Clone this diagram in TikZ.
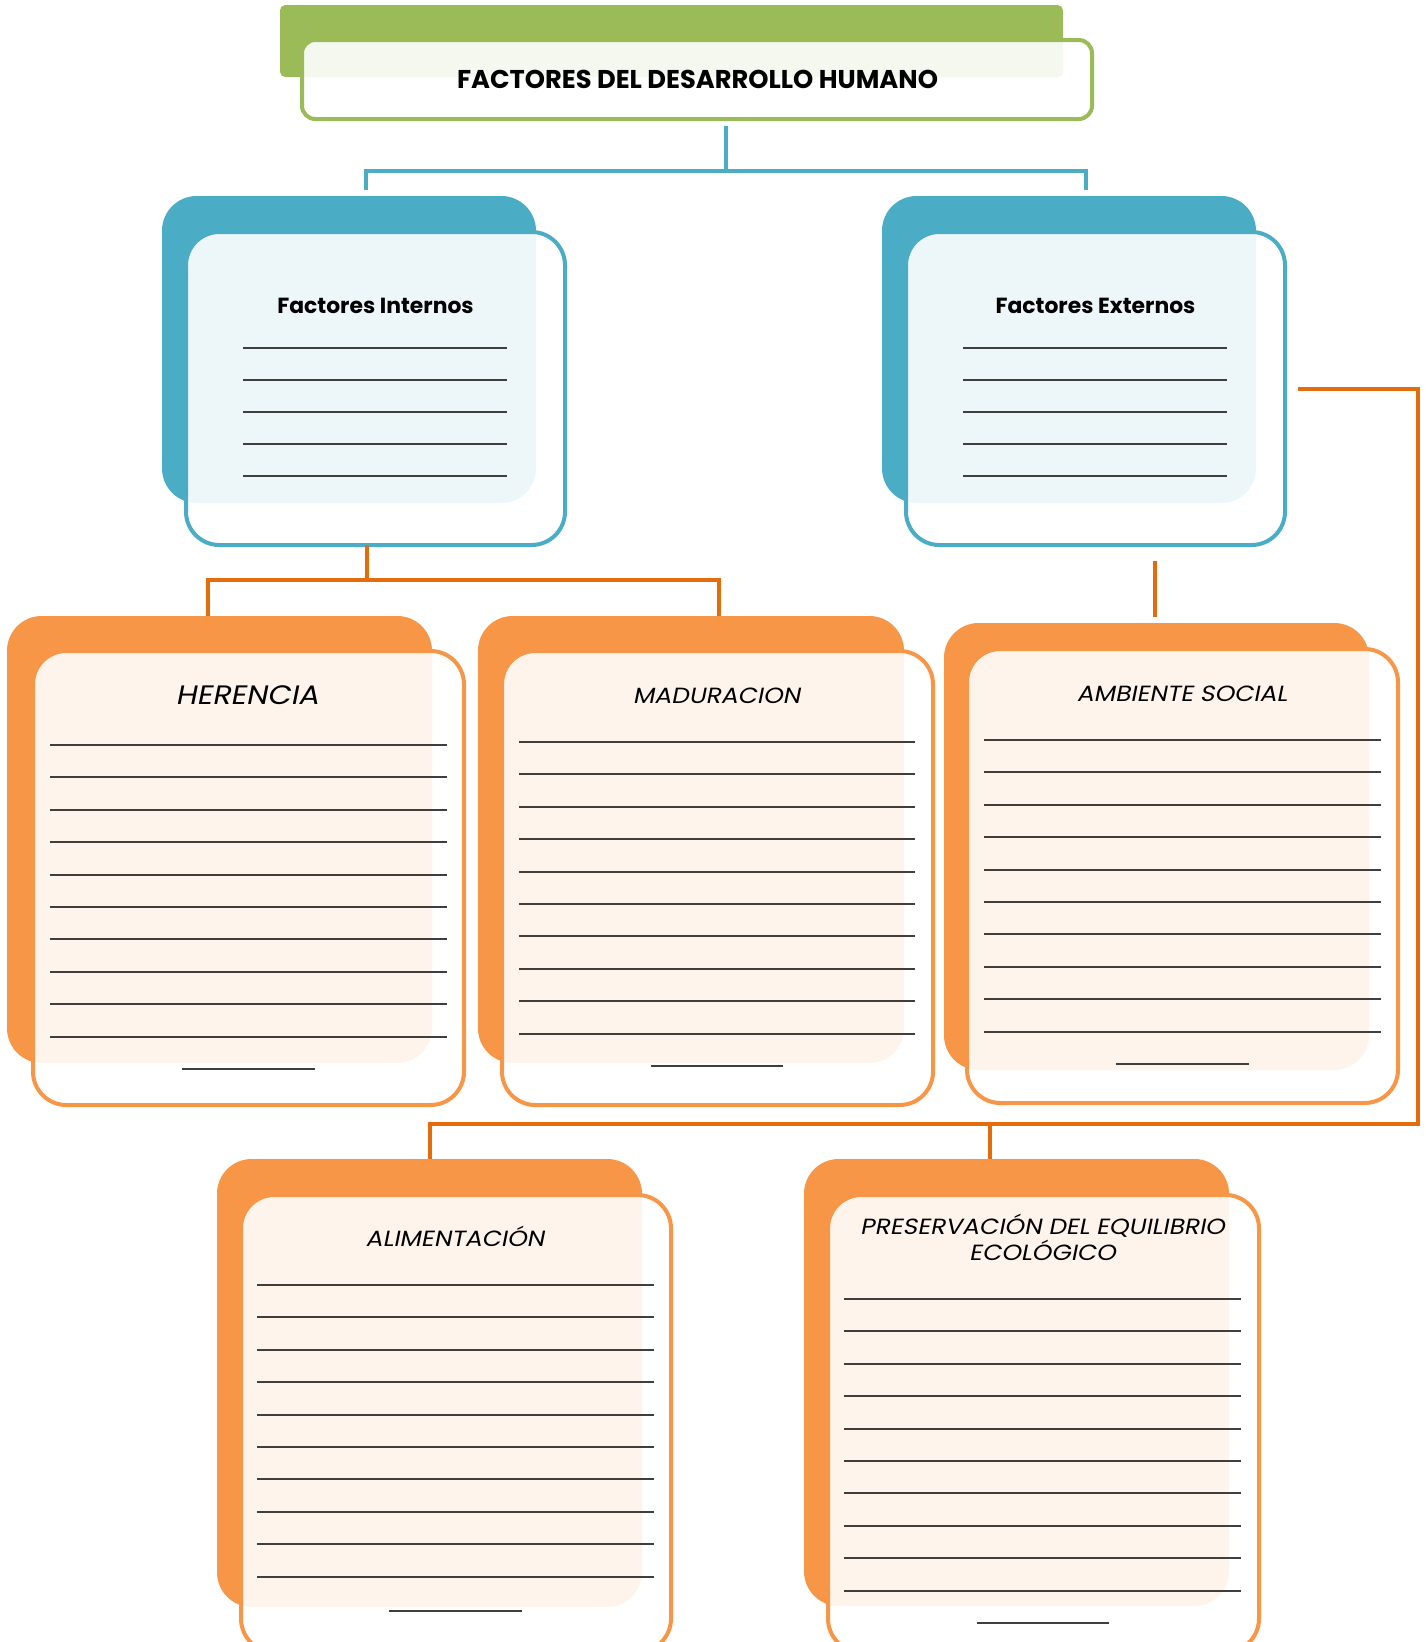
\documentclass[tikz,border=0pt]{standalone}
\usepackage{fontspec}
\setmainfont{Poppins}
\newfontfamily\obl{Poppins}[FakeSlant=0.2, FakeStretch=1.135]
\definecolor{cgreen}{HTML}{9BBB59}
\definecolor{cblue}{HTML}{4BACC6}
\definecolor{corange}{HTML}{F79646}
\definecolor{cdark}{HTML}{E46C0A}
\definecolor{cline}{HTML}{3F3F3F}
\newcommand\place[6]{\node[#6, minimum width={(#4-#2)*0.75pt}, minimum height={(#5-#3)*0.75pt}] (#1) at ({(#2+#4)/2},{(#3+#5)/2}) {};}
\tikzset{
  card/.style={rectangle, inner sep=0pt, outer sep=0pt},
  backbox/.style={card, fill=#1, rounded corners=26pt},
  frontbox/.style={card, draw=#1, line width=3pt, fill=white, fill opacity=0.9, rounded corners=25pt},
  ruled/.style={draw=cline, line width=1.4pt},
  bcon/.style={draw=cblue, line width=2.6pt},
  ocon/.style={draw=cdark, line width=2.6pt},
  ttl/.style={anchor=base, inner sep=0pt, text=black},
}
\begin{document}
\begin{tikzpicture}[x=0.75pt,y=-0.75pt]
\useasboundingbox (0,0) rectangle (1426,1642);
\clip (0,0) rectangle (1426,1642);
% title
\place{tB}{280}{5}{1063}{77}{card, fill=cgreen, rounded corners=4pt}
\place{tF}{302}{40}{1092}{119}{card, draw=cgreen, line width=3pt, fill=white, fill opacity=0.9, rounded corners=10pt}
\node[ttl, font=\bfseries\fontsize{19.3}{23}\selectfont] (tT) at (697.5,88) {FACTORES DEL DESARROLLO HUMANO};
% blue cards
\place{iB}{162}{196}{536}{503}{backbox=cblue}
\place{iF}{186}{232}{565}{545}{frontbox=cblue}
\place{eB}{882}{196}{1256}{503}{backbox=cblue}
\place{eF}{906}{232}{1285}{545}{frontbox=cblue}
\node[ttl, font=\bfseries\fontsize{16.4}{20}\selectfont] (iT) at (375.5,313) {Factores Internos};
\node[ttl, font=\bfseries\fontsize{16.4}{20}\selectfont] (eT) at (1095.5,313) {Factores Externos};
\foreach \k in {0,...,4}{
  \draw[ruled] (243,{348+32*\k}) -- (507,{348+32*\k});
  \draw[ruled] (963,{348+32*\k}) -- (1227,{348+32*\k});
}
% orange cards
\place{hB}{7}{616}{432}{1063}{backbox=corange}
\place{hF}{33}{651}{464}{1105}{frontbox=corange}
\place{mB}{478}{616}{904}{1063}{backbox=corange}
\place{mF}{502}{651}{933}{1105}{frontbox=corange}
\place{aB}{944}{623}{1369}{1070}{backbox=corange}
\place{aF}{967}{649}{1398}{1103}{frontbox=corange}
\place{lB}{217}{1159}{642}{1607}{backbox=corange}
\place{lF}{241}{1195}{671}{1652}{frontbox=corange}
\place{pB}{804}{1159}{1229}{1606}{backbox=corange}
\place{pF}{828}{1195}{1259}{1652}{frontbox=corange}
\node[ttl, font=\obl\fontsize{20}{24}\selectfont] (hT) at (247,704) {HERENCIA};
\node[ttl, font=\obl\fontsize{16.5}{20}\selectfont] (mT) at (716.5,703) {MADURACION};
\node[ttl, font=\obl\fontsize{16.5}{20}\selectfont] (aT) at (1182,701) {AMBIENTE SOCIAL};
\node[ttl, font=\obl\fontsize{16.5}{20}\selectfont] (lT) at (455,1246) {ALIMENTACIÓN};
\node[ttl, font=\obl\fontsize{16.5}{20}\selectfont] (pT1) at (1042.5,1234) {PRESERVACIÓN DEL EQUILIBRIO};
\node[ttl, font=\obl\fontsize{16.5}{20}\selectfont] (pT2) at (1042.5,1260) {ECOLÓGICO};
\foreach \k in {0,...,9}{
  \draw[ruled] (50,{745+32.4*\k}) -- (447,{745+32.4*\k});
  \draw[ruled] (519,{742+32.4*\k}) -- (915,{742+32.4*\k});
  \draw[ruled] (984,{740+32.4*\k}) -- (1381,{740+32.4*\k});
  \draw[ruled] (257,{1285+32.4*\k}) -- (654,{1285+32.4*\k});
  \draw[ruled] (844,{1299+32.4*\k}) -- (1241,{1299+32.4*\k});
}
\draw[ruled] (182,1069) -- (315,1069);
\draw[ruled] (651,1066) -- (783,1066);
\draw[ruled] (1116,1064) -- (1249,1064);
\draw[ruled] (389,1611) -- (522,1611);
\draw[ruled] (977,1623) -- (1109,1623);
% blue connectors
\coordinate (b0) at (726,126);
\coordinate (bj) at (726,171);
\coordinate (bl) at (366,190);
\coordinate (br) at (1086,190);
\draw[bcon] (b0) -- (bj);
\draw[bcon] (bj) -| (bl);
\draw[bcon] (bj) -| (br);
% orange connectors
\coordinate (o0) at (367,545);
\coordinate (oj) at (367,580);
\draw[ocon] (o0) -- (oj);
\draw[ocon] (oj) -| (hB.north -| 208,0);
\draw[ocon] (oj) -| (mB.north -| 719,0);
\coordinate (s0) at (1155,561);
\coordinate (s1) at (1155,617);
\draw[ocon] (s0) -- (s1);
\coordinate (r0) at (1298,389);
\coordinate (rj) at (990,1124);
\draw[ocon] (r0) -- (1418,389) |- (rj);
\draw[ocon] (rj) -| (lB.north -| 430,0);
\draw[ocon] (rj) -- (pB.north -| 990,0);
\end{tikzpicture}
\end{document}
